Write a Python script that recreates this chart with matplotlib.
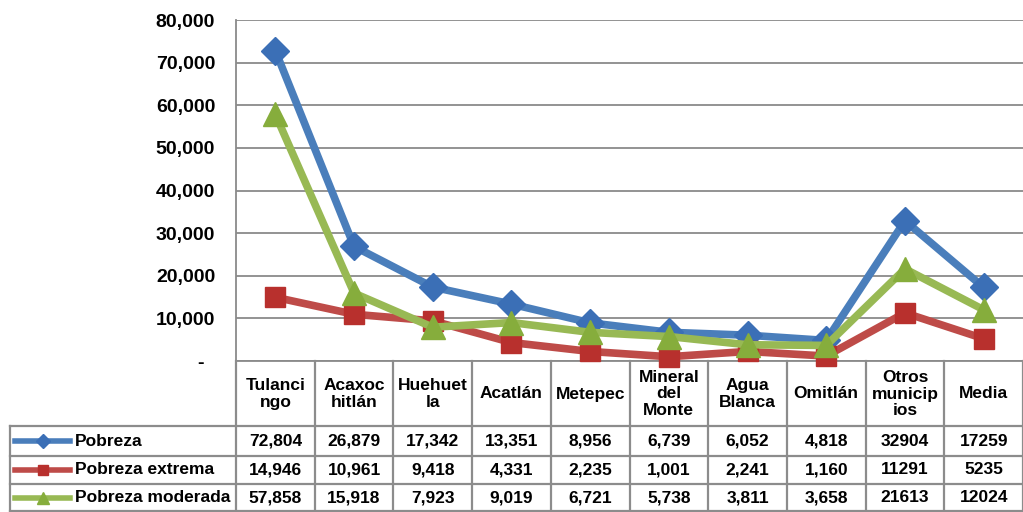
import matplotlib.pyplot as plt
from matplotlib.lines import Line2D
from matplotlib.transforms import blended_transform_factory

plt.rcParams['font.family'] = ['Liberation Sans', 'DejaVu Sans']
plt.rcParams['font.weight'] = 'bold'

municipios = ['Tulanci\nngo', 'Acaxoc\nhitlán', 'Huehuet\nla', 'Acatlán', 'Metepec',
              'Mineral\ndel\nMonte', 'Agua\nBlanca', 'Omitlán', 'Otros\nmunicip\nios', 'Media']
pobreza = [72804, 26879, 17342, 13351, 8956, 6739, 6052, 4818, 32904, 17259]
extrema = [14946, 10961, 9418, 4331, 2235, 1001, 2241, 1160, 11291, 5235]
moderada = [57858, 15918, 7923, 9019, 6721, 5738, 3811, 3658, 21613, 12024]
series_names = ['Pobreza', 'Pobreza extrema', 'Pobreza moderada']
y_ticks = [0, 10000, 20000, 30000, 40000, 50000, 60000, 70000, 80000]

W, H = 1023, 512
fig = plt.figure(figsize=(W / 100, H / 100), dpi=100)
ax = fig.add_axes([236 / W, (H - 361) / H, 787 / W, 341 / H])

x = list(range(len(municipios)))
styles = [
    dict(color='#4a7ebb', marker='D', ms=14, mfc='#3b6fb6', mec='#3b6fb6'),
    dict(color='#be4b48', marker='s', ms=15, mfc='#b8302d', mec='#b8302d'),
    dict(color='#98b954', marker='^', ms=17, mfc='#86ad3c', mec='#86ad3c'),
]
all_series = [pobreza, extrema, moderada]
for vals, st in zip(all_series, styles):
    ax.plot(x, vals, lw=5.5, clip_on=False, zorder=3, **st)

ax.set_xlim(-0.5, len(municipios) - 0.5)
ax.set_ylim(0, 80000)
ax.set_yticks(y_ticks)
ax.set_yticklabels(['-  ' if v == 0 else f'{v:,}' for v in y_ticks], fontsize=14)
ax.tick_params(axis='y', length=0, pad=15)
ax.set_xticks([])
ax.grid(axis='y', color='#8a8a8a', lw=1.3)
for s in ['top', 'right']:
    ax.spines[s].set_visible(False)
for s in ['left', 'bottom']:
    ax.spines[s].set_color('#8a8a8a')
    ax.spines[s].set_linewidth(1.3)

# data table under the chart
tr = blended_transform_factory(ax.transData, fig.transFigure)
fy = lambda py: 1 - py / H
line_kw = dict(color='#8c8c8c', lw=1.6)

for py in [426, 456, 484, 511]:
    fig.add_artist(Line2D([10 / W, 1], [fy(py), fy(py)], transform=fig.transFigure, **line_kw))
fig.add_artist(Line2D([10 / W, 10 / W], [fy(426), fy(511)], transform=fig.transFigure, **line_kw))
for b in range(len(municipios) + 1):
    fig.add_artist(Line2D([b - 0.5, b - 0.5], [fy(361), fy(511)], transform=tr, **line_kw))

for i, name in enumerate(municipios):
    fig.text(i, fy(394), name, transform=tr, ha='center', va='center',
             fontsize=12.5, linespacing=1.15)

row_y = [441, 470, 498]
for vals, st, name, py in zip(all_series, styles, series_names, row_y):
    key = Line2D([15 / W, 70 / W], [fy(py), fy(py)], transform=fig.transFigure,
                 color=st['color'], lw=4)
    fig.add_artist(key)
    mk = Line2D([43 / W], [fy(py)], transform=fig.transFigure, marker=st['marker'],
                ms=st['ms'] * 0.5, mfc=st['mfc'], mec=st['mec'], lw=0)
    fig.add_artist(mk)
    fig.text(75 / W, fy(py), name, ha='left', va='center', fontsize=12.5)
    for i, v in enumerate(vals):
        txt = f'{v:,}' if i < 8 else str(v)
        fig.text(i, fy(py), txt, transform=tr, ha='center', va='center', fontsize=12.5)

fig.savefig('out.png', dpi=100)
